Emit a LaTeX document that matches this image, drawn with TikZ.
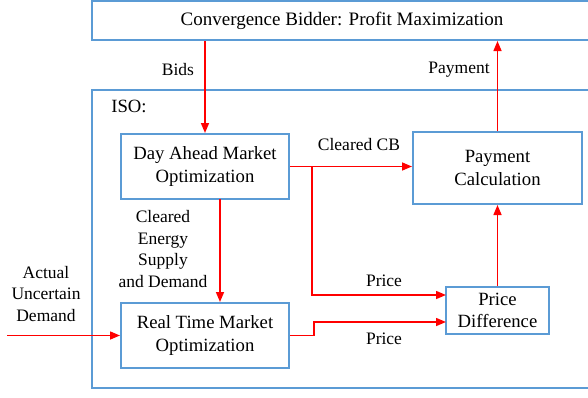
\documentclass[tikz,border=0pt]{standalone}
\usepackage{fontspec}
\setmainfont{Liberation Serif}
\usetikzlibrary{arrows.meta,calc}
\definecolor{boxblue}{RGB}{91,155,213}
\definecolor{flowred}{RGB}{255,0,0}
\begin{document}
\begin{tikzpicture}[x=1pt,y=-1pt,
  blk/.style={draw=boxblue,line width=2pt,fill=white,align=center,inner sep=0pt,
    font=\fontsize{18.7}{22.4}\selectfont},
  arr/.style={draw=flowred,line width=1.5pt,-{Triangle[length=10pt,width=8pt]}},
  lbl/.style={align=center,inner sep=0pt,font=\fontsize{17.5}{21.5}\selectfont}]
\clip (0,0) rectangle (588,397);
% outer frames (they run past the right edge)
\node[blk,minimum width=500pt,minimum height=298pt] (iso) at (342,239) {};
\node[lbl,font=\fontsize{18.7}{22.4}\selectfont] (isotxt) at (129,106) {ISO:};
\node[blk,minimum width=500pt,minimum height=39pt,font=\fontsize{19}{23}\selectfont] (cb) at (342,20.5)
  {Convergence Bidder: Profit Maximization};
% inner blocks
\node[blk,minimum width=168pt,minimum height=65pt] (da) at (205,166.5) {Day Ahead Market\\Optimization};
\node[blk,minimum width=168pt,minimum height=65pt] (rt) at (205,335.5) {Real Time Market\\Optimization};
\node[blk,minimum width=169pt,minimum height=72pt] (pc) at (497.5,168) {Payment\\Calculation};
\node[blk,minimum width=103pt,minimum height=47pt] (pd) at (497.5,310.5) {Price\\Difference};
% helper points
\coordinate (j1) at (312,166.5);
\coordinate (pin1) at (446,295);
\coordinate (pin2) at (446,322);
\coordinate (src) at (7,335.5);
\coordinate (daout) at (220,199);
% connectors
\draw[arr] (cb.south -| da.north) -- (da.north);
\draw[arr] (pc.north) -- (pc.north |- cb.south);
\draw[arr] (daout) -- (daout |- rt.north);
\draw[arr] (da.east) -- (da.east -| pc.west);
\draw[arr] (j1) |- (pin1);
\draw[arr] (rt.east) -- ++(24,0) |- (pin2);
\draw[arr] (pd.north) -- (pc.south);
\draw[arr] (src) -- (rt.west);
% labels
\node[lbl] (lbids) at (178,70) {Bids};
\node[lbl] (lpay) at (459,70) {Payment};
\node[lbl] (lccb) at (359,145) {Cleared CB};
\node[lbl] (lces) at (163,249) {Cleared\\Energy\\Supply\\and Demand};
\node[lbl] (lp1) at (384,281) {Price};
\node[lbl] (lp2) at (384,339) {Price};
\node[lbl] (laud) at (46,294) {Actual\\Uncertain\\Demand};
\end{tikzpicture}
\end{document}
